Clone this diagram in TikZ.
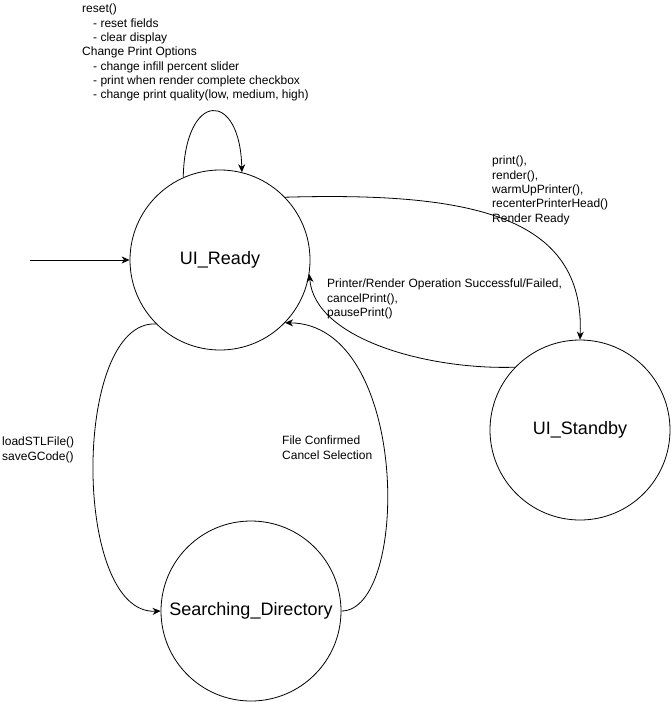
\documentclass[tikz,border=0pt]{standalone}
\usepackage{fontspec}
\setmainfont{Liberation Sans}
\usetikzlibrary{arrows.meta}
\begin{document}
\begin{tikzpicture}[x=1pt,y=-1pt,
  state/.style={draw,circle,minimum size=180pt,inner sep=0pt,line width=0.8pt,font=\fontsize{18}{21.6}\selectfont},
  lbl/.style={anchor=north west,inner sep=0pt,align=left,font=\fontsize{12}{14.3}\selectfont},
  tr/.style={line width=0.8pt,-{Stealth[length=8pt,width=7pt,inset=2.5pt]}}]
\useasboundingbox (0,0) rectangle (672,702);
\node[state] (ready) at (220,260) {UI\_Ready};
\node[state] (standby) at (580,430) {UI\_Standby};
\node[state] (search) at (251,611) {Searching\_Directory};
\coordinate (init) at (30,260);
\draw[tr] (init) -- (ready.west);
\draw[tr] (ready.114.6) .. controls (185,90) and (240,90) .. (ready.76);
\draw[tr] (ready.44) .. controls (470,192) and (585,215) .. (standby.north);
\draw[tr] (standby.136) .. controls (430,370) and (315,340) .. (ready.351);
\draw[tr] (ready.225.5) .. controls (72,320) and (72,615) .. (search.west);
\draw[tr] (search.east) .. controls (410,611) and (410,324) .. (ready.316);
\node[lbl] (l1) at (82,4) {reset()\\\hspace*{11pt}- reset fields\\\hspace*{11pt}- clear display\\Change Print Options\\\hspace*{11pt}- change infill percent slider\\\hspace*{11pt}- print when render complete checkbox\\\hspace*{11pt}- change print quality(low, medium, high)};
\node[lbl] (l2) at (492,156) {print(),\\render(),\\warmUpPrinter(),\\recenterPrinterHead()\\Render Ready};
\node[lbl] (l3) at (327,279) {Printer/Render Operation Successful/Failed,\\cancelPrint(),\\pausePrint()};
\node[lbl] (l4) at (2,437) {loadSTLFile()\\saveGCode()};
\node[lbl] (l5) at (282,436) {File Confirmed\\Cancel Selection};
\end{tikzpicture}
\end{document}
